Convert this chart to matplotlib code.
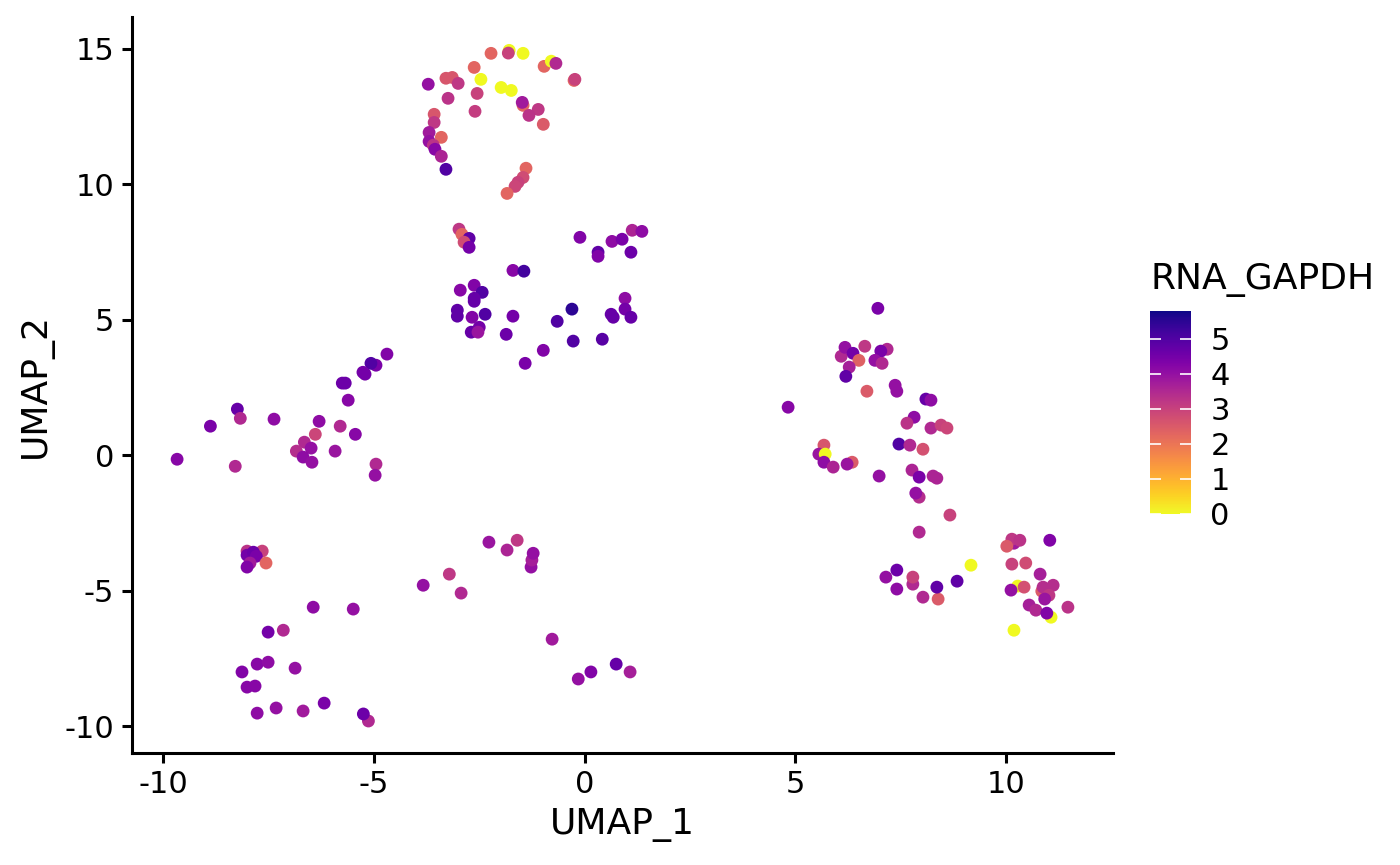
import matplotlib
matplotlib.use("Agg")
import matplotlib.pyplot as plt

plt.rcParams['font.family'] = 'DejaVu Sans'
plt.rcParams['axes.unicode_minus'] = False

# UMAP coordinates and GAPDH expression per cell
umap_1 = [
    # top arc
    -2.22, -1.79, -1.81, -1.46, -0.96, -0.79, -0.68, -0.25, -0.23, -2.62,
    -3.71, -3.29, -3.14, -3.00, -2.46, -2.55, -1.98, -1.74, -3.24, -2.60,
    -1.46, -1.48, -1.10, -1.32, -0.98, -3.57, -3.57, -3.69, -3.40, -3.69,
    -3.59, -3.55, -3.40, -3.29, -1.39, -1.46, -1.58, -1.65, -1.84,
    # middle cluster
    -2.98, -2.91, -2.74, -2.86, -2.74, -0.11, 0.32, 0.32, 0.65, 0.89,
    1.13, 1.36, 1.10, -1.70, -1.44, -2.95, -2.62, -2.43, -2.62, -2.62,
    -3.02, -3.02, -2.67, -2.36, -1.70, -2.69, -2.50, -2.53, -1.86, -0.65,
    -0.30, -0.27, 0.42, 0.63, 0.68, 0.96, 0.96, 1.10, -0.98, -1.41,
    # left cluster
    -4.69, -4.95, -5.07, -5.26, -5.21, -5.75, -5.68, -5.61, -8.24, -8.17,
    -8.88, -7.37, -6.30, -5.80, -6.39, -5.44, -6.65, -6.84, -6.49, -6.68,
    -6.47, -5.92, -9.67, -8.29, -4.95, -4.97,
    # bottom left
    -8.01, -7.65, -8.01, -7.86, -7.79, -7.94, -8.01, -7.56, -6.44, -5.49,
    -7.51, -7.15, -8.13, -7.77, -7.51, -6.87, -8.01, -7.82, -7.77, -7.32,
    -6.68, -6.18, -5.13, -5.25,
    # bottom middle
    -2.27, -1.84, -1.60, -1.27, -1.25, -1.22, -3.83, -3.21, -2.93, -0.77,
    -0.15, 0.15, 0.75, 1.08,
    # right upper
    6.96, 6.09, 6.18, 6.37, 6.65, 6.51, 6.28, 6.20, 7.18, 7.03,
    6.89, 7.06, 6.70, 7.37, 7.41, 8.10, 8.22, 4.83, 7.82, 7.65,
    8.22, 8.46, 8.60, 7.46, 7.72, 8.03, 5.68, 5.56, 5.71, 5.68,
    5.90, 6.35, 6.23, 6.99, 7.77, 7.94, 8.27, 8.36, 7.94, 7.86,
    8.67, 7.94,
    # right lower
    9.17, 7.15, 7.41, 7.79, 7.79, 7.41, 8.03, 8.39, 8.36, 8.84,
    11.04, 10.19, 10.14, 10.33, 10.02, 10.14, 10.47, 10.81, 10.28, 10.43,
    10.12, 10.85, 10.88, 11.12, 11.02, 10.92, 10.55, 10.71, 11.07, 10.97,
    11.47, 10.19,
]

umap_2 = [
    # top arc
    14.83, 14.94, 14.84, 14.83, 14.35, 14.54, 14.46, 13.83, 13.87, 14.31,
    13.69, 13.91, 13.94, 13.72, 13.87, 13.35, 13.57, 13.46, 13.17, 12.69,
    12.91, 13.02, 12.76, 12.54, 12.21, 12.58, 12.28, 11.91, 11.73, 11.58,
    11.44, 11.29, 11.03, 10.55, 10.59, 10.25, 10.07, 9.92, 9.66,
    # middle cluster
    8.34, 8.15, 8.00, 7.86, 7.67, 8.04, 7.49, 7.34, 7.89, 7.97,
    8.30, 8.26, 7.49, 6.82, 6.79, 6.09, 6.27, 6.01, 5.79, 5.68,
    5.35, 5.13, 5.09, 5.20, 5.13, 4.54, 4.72, 4.54, 4.46, 4.94,
    5.39, 4.21, 4.28, 5.20, 5.09, 5.79, 5.39, 5.09, 3.87, 3.39,
    # left cluster
    3.73, 3.32, 3.39, 3.06, 2.99, 2.66, 2.66, 2.03, 1.70, 1.36,
    1.07, 1.33, 1.25, 1.07, 0.77, 0.77, 0.48, 0.15, 0.26, -0.07,
    -0.26, 0.15, -0.15, -0.41, -0.33, -0.74,
    # bottom left
    -3.54, -3.54, -3.69, -3.58, -3.73, -3.98, -4.13, -3.98, -5.61, -5.68,
    -6.53, -6.46, -8.00, -7.71, -7.64, -7.86, -8.56, -8.52, -9.52, -9.33,
    -9.44, -9.15, -9.81, -9.55,
    # bottom middle
    -3.21, -3.50, -3.14, -4.13, -3.87, -3.62, -4.80, -4.39, -5.09, -6.79,
    -8.26, -8.00, -7.71, -8.00,
    # right upper
    5.42, 3.65, 3.98, 3.76, 4.02, 3.50, 3.25, 2.91, 3.91, 3.84,
    3.50, 3.39, 2.36, 2.58, 2.36, 2.07, 2.03, 1.77, 1.40, 1.18,
    1.00, 1.11, 1.00, 0.41, 0.37, 0.22, 0.37, 0.04, 0.04, -0.26,
    -0.44, -0.26, -0.33, -0.77, -0.55, -0.81, -0.77, -0.85, -1.55, -1.40,
    -2.21, -2.84,
    # right lower
    -4.06, -4.50, -4.24, -4.76, -4.50, -4.94, -5.24, -5.31, -4.87, -4.65,
    -3.14, -3.25, -3.10, -3.14, -3.36, -4.02, -3.98, -4.39, -4.83, -4.87,
    -4.98, -5.02, -4.87, -4.80, -5.17, -5.31, -5.53, -5.72, -5.98, -5.83,
    -5.61, -6.46,
]

gapdh = [
    # top arc
    2.3, 0.0, 3.0, 0.0, 2.3, 0.0, 3.5, 2.3, 3.0, 2.3,
    4.0, 2.6, 2.6, 3.2, 0.0, 3.0, 0.0, 0.0, 3.3, 3.1,
    2.3, 3.8, 3.2, 3.3, 2.5, 2.6, 3.2, 3.8, 2.3, 4.0,
    3.3, 4.2, 3.6, 5.0, 2.3, 2.8, 3.0, 2.9, 2.3,
    # middle cluster
    3.2, 2.3, 4.8, 2.8, 4.5, 4.3, 4.8, 4.3, 4.1, 4.4,
    3.6, 4.1, 4.6, 4.2, 5.2, 4.2, 4.3, 5.0, 4.7, 4.7,
    4.8, 4.8, 4.3, 5.0, 4.5, 4.7, 4.5, 3.9, 4.6, 5.0,
    5.5, 5.0, 4.9, 4.7, 4.7, 4.1, 4.5, 4.7, 4.3, 4.4,
    # left cluster
    4.3, 4.4, 5.0, 4.5, 4.5, 4.6, 4.6, 4.2, 4.7, 3.5,
    4.4, 4.1, 4.1, 3.5, 2.9, 4.2, 3.5, 3.4, 4.0, 4.1,
    4.0, 3.9, 4.2, 3.5, 3.5, 4.0,
    # bottom left
    3.3, 3.0, 4.5, 4.6, 4.4, 3.8, 4.3, 2.3, 4.1, 4.0,
    4.5, 3.5, 4.3, 4.2, 4.1, 4.0, 4.2, 4.2, 4.1, 4.0,
    3.8, 4.4, 3.5, 4.6,
    # bottom middle
    3.9, 3.6, 3.2, 4.0, 3.7, 4.0, 4.0, 3.2, 3.5, 3.8,
    4.0, 4.3, 4.7, 3.7,
    # right upper
    4.4, 3.5, 4.0, 4.5, 3.2, 2.4, 3.7, 4.8, 3.5, 4.4,
    4.0, 3.5, 2.5, 4.0, 4.0, 4.7, 4.1, 4.2, 4.1, 3.3,
    3.5, 3.0, 2.9, 5.0, 3.5, 2.7, 2.6, 3.9, 0.0, 4.1,
    3.6, 2.5, 3.9, 4.0, 3.6, 4.4, 3.6, 3.6, 3.4, 4.0,
    3.0, 3.5,
    # right lower
    0.0, 4.0, 4.6, 3.5, 3.0, 4.1, 3.5, 2.5, 4.8, 4.8,
    4.3, 3.8, 3.2, 3.3, 2.5, 3.0, 2.8, 3.7, 0.0, 2.7,
    4.0, 2.5, 3.4, 3.4, 3.2, 3.9, 3.7, 3.5, 0.0, 4.3,
    3.3, 0.0,
]

fig = plt.figure(figsize=(14, 8.65), dpi=100)
ax = fig.add_axes([0.0943, 0.1295, 0.7007, 0.8505])

sc = ax.scatter(umap_1, umap_2, c=gapdh, cmap='plasma_r', vmin=0, vmax=5.8,
                s=85, linewidths=0, clip_on=False)

ax.set_xlim(-10.74, 12.54)
ax.set_ylim(-10.99, 16.16)
ax.set_xticks([-10, -5, 0, 5, 10])
ax.set_yticks([-10, -5, 0, 5, 10, 15])
ax.spines['top'].set_visible(False)
ax.spines['right'].set_visible(False)
for s in ['left', 'bottom']:
    ax.spines[s].set_linewidth(2.2)
ax.tick_params(width=2.2, length=7, labelsize=22, color='black')
ax.tick_params(axis='x', pad=5)
ax.tick_params(axis='y', pad=6)
ax.set_xlabel('UMAP_1', fontsize=26, labelpad=7)
ax.set_ylabel('UMAP_2', fontsize=26, labelpad=8)

# colour bar legend
cax = fig.add_axes([0.8214, 0.4058, 0.0293, 0.2347])
cb = fig.colorbar(sc, cax=cax)
cb.outline.set_visible(False)
cb.set_ticks([0, 1, 2, 3, 4, 5])
cax.tick_params(direction='in', length=8, width=1.2, colors='white',
                left=True, right=True, labelsize=22, labelcolor='black', pad=14)
fig.text(0.822, 0.666, 'RNA_GAPDH', fontsize=26, va='baseline', ha='left')

fig.savefig('out.png', dpi=100)
